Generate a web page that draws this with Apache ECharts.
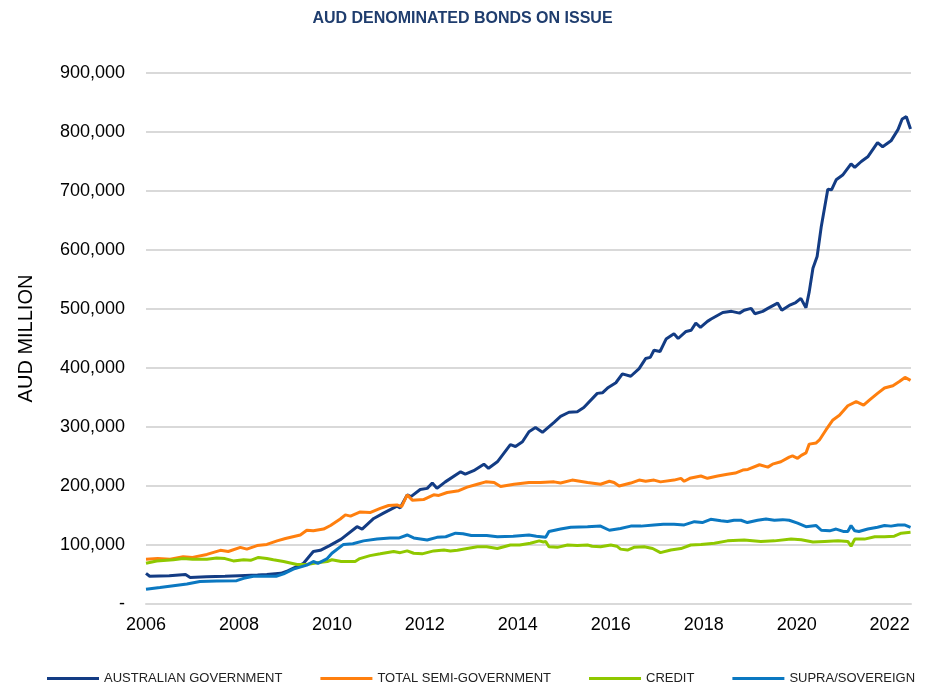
<!DOCTYPE html>
<html>
<head>
<meta charset="utf-8">
<script src="https://cdn.jsdelivr.net/npm/echarts@6/dist/echarts.min.js"></script>
<style>
body { margin: 0; background: #fff; }
#chart { width: 925px; height: 684px; }
</style>
</head>
<body>
<div id="chart"></div>
<script>
/* 数据: [年份, 金额(AUD million)] */
var seriesNames = ["AUSTRALIAN GOVERNMENT", "TOTAL SEMI-GOVERNMENT", "CREDIT", "SUPRA/SOVEREIGN"];
var yearTicks = [2006, 2008, 2010, 2012, 2014, 2016, 2018, 2020, 2022];

var ausGov = [[2006.0,52000],[2006.08,47000],[2006.5,48000],[2006.85,50000],[2006.95,45000],[2007.3,46000],[2007.7,47000],[2008.0,48000],[2008.4,49000],[2008.6,50000],[2008.9,52000],[2009.05,56000],[2009.39,69000],[2009.6,89000],[2009.75,91000],[2009.95,99000],[2010.2,110000],[2010.54,131000],[2010.65,127000],[2010.9,145000],[2011.11,154000],[2011.4,166000],[2011.47,163000],[2011.62,185000],[2011.7,182000],[2011.9,194000],[2012.05,196000],[2012.16,205000],[2012.26,196000],[2012.44,207000],[2012.77,224000],[2012.87,220000],[2013.05,226000],[2013.27,237000],[2013.37,230000],[2013.56,241000],[2013.84,270000],[2013.95,267000],[2014.1,275000],[2014.24,292000],[2014.38,299000],[2014.53,291000],[2014.78,308000],[2014.92,318000],[2015.1,325000],[2015.28,326000],[2015.42,333000],[2015.71,357000],[2015.82,358000],[2015.93,366000],[2016.11,375000],[2016.25,390000],[2016.43,386000],[2016.61,399000],[2016.75,416000],[2016.85,418000],[2016.93,430000],[2017.06,428000],[2017.19,449000],[2017.36,458000],[2017.45,450000],[2017.62,462000],[2017.73,464000],[2017.83,476000],[2017.93,469000],[2018.08,479000],[2018.16,483000],[2018.41,494000],[2018.6,496000],[2018.77,493000],[2018.87,498000],[2019.02,501000],[2019.1,492000],[2019.27,496000],[2019.38,501000],[2019.59,510000],[2019.68,498000],[2019.84,506000],[2019.98,511000],[2020.09,518000],[2020.2,502000],[2020.27,529000],[2020.35,569000],[2020.44,589000],[2020.53,640000],[2020.67,703000],[2020.75,702000],[2020.85,719000],[2020.99,727000],[2021.17,746000],[2021.25,740000],[2021.39,750000],[2021.53,758000],[2021.74,782000],[2021.85,775000],[2022.03,785000],[2022.18,804000],[2022.27,822000],[2022.36,826000],[2022.45,805000]];

var semiGov = [[2006.0,76000],[2006.25,77000],[2006.52,76000],[2006.8,80000],[2007.0,79000],[2007.31,84000],[2007.6,91000],[2007.77,89000],[2008.03,96000],[2008.17,93000],[2008.39,99000],[2008.6,101000],[2008.82,107000],[2009.0,111000],[2009.32,117000],[2009.46,125000],[2009.6,124000],[2009.82,127000],[2009.97,133000],[2010.18,144000],[2010.29,151000],[2010.4,149000],[2010.61,156000],[2010.82,155000],[2011.04,162000],[2011.22,167000],[2011.4,168000],[2011.5,165000],[2011.62,185000],[2011.73,176000],[2011.97,177000],[2012.19,185000],[2012.3,184000],[2012.48,189000],[2012.73,192000],[2012.91,198000],[2013.13,203000],[2013.31,207000],[2013.49,206000],[2013.63,199000],[2013.92,203000],[2014.24,206000],[2014.49,206000],[2014.78,207000],[2014.92,205000],[2015.17,210000],[2015.5,206000],[2015.78,203000],[2015.97,208000],[2016.07,206000],[2016.18,200000],[2016.43,205000],[2016.61,210000],[2016.75,208000],[2016.93,210000],[2017.07,207000],[2017.36,210000],[2017.51,213000],[2017.58,208000],[2017.7,213000],[2017.94,217000],[2018.08,213000],[2018.3,217000],[2018.51,220000],[2018.68,222000],[2018.84,227000],[2018.95,228000],[2019.2,236000],[2019.38,232000],[2019.48,237000],[2019.66,241000],[2019.84,249000],[2019.91,251000],[2020.02,247000],[2020.1,252000],[2020.2,256000],[2020.27,271000],[2020.42,273000],[2020.49,278000],[2020.63,295000],[2020.78,312000],[2020.92,320000],[2021.1,336000],[2021.28,343000],[2021.44,337000],[2021.57,346000],[2021.74,357000],[2021.89,366000],[2022.07,370000],[2022.21,377000],[2022.33,384000],[2022.45,379000]];

var credit = [[2006.0,69000],[2006.23,73000],[2006.59,75000],[2006.8,77000],[2007.0,76000],[2007.31,76000],[2007.52,78000],[2007.7,77000],[2007.88,73000],[2008.1,75000],[2008.25,74000],[2008.42,79000],[2008.6,77000],[2008.74,75000],[2008.96,72000],[2009.25,67000],[2009.46,67000],[2009.68,70000],[2009.9,72000],[2010.0,75000],[2010.2,72000],[2010.5,72000],[2010.6,77000],[2010.82,82000],[2011.04,85000],[2011.33,89000],[2011.47,87000],[2011.62,90000],[2011.76,86000],[2011.94,85000],[2012.19,90000],[2012.41,91500],[2012.55,90000],[2012.7,91000],[2012.91,94000],[2013.13,97000],[2013.33,97000],[2013.56,94000],[2013.84,100000],[2014.04,100000],[2014.27,103000],[2014.46,107000],[2014.55,105000],[2014.6,106000],[2014.67,97000],[2014.85,96000],[2015.07,100000],[2015.28,99000],[2015.5,100000],[2015.6,98000],[2015.78,97000],[2016.0,100000],[2016.13,98000],[2016.21,93000],[2016.36,91500],[2016.5,96000],[2016.72,97000],[2016.9,94000],[2017.07,87000],[2017.29,91500],[2017.51,94000],[2017.72,100000],[2017.94,101000],[2018.23,103000],[2018.51,107000],[2018.87,108500],[2019.23,106000],[2019.52,107000],[2019.88,110000],[2020.1,109000],[2020.35,105000],[2020.6,106000],[2020.89,107000],[2021.1,106000],[2021.17,98000],[2021.25,110000],[2021.46,110000],[2021.68,114000],[2021.89,114000],[2022.1,115000],[2022.25,120000],[2022.45,121500]];

var supra = [[2006.0,25000],[2006.3,28000],[2006.59,31000],[2006.88,34000],[2007.16,38000],[2007.52,39000],[2007.95,39500],[2008.1,43500],[2008.31,47000],[2008.6,47000],[2008.8,47000],[2008.96,51000],[2009.17,59000],[2009.46,66000],[2009.6,72000],[2009.7,69000],[2009.9,77000],[2010.0,86000],[2010.25,101000],[2010.45,102000],[2010.68,107000],[2010.97,110000],[2011.25,112000],[2011.45,112000],[2011.62,117000],[2011.76,112000],[2012.05,108500],[2012.26,113000],[2012.45,114000],[2012.66,120000],[2012.82,119000],[2013.0,116000],[2013.33,116000],[2013.56,114000],[2013.9,115000],[2014.24,117000],[2014.4,115000],[2014.6,113000],[2014.67,123000],[2014.92,127000],[2015.14,130000],[2015.5,131000],[2015.78,132000],[2015.97,125000],[2016.21,128000],[2016.43,132000],[2016.65,132000],[2016.93,134000],[2017.13,135000],[2017.36,135000],[2017.58,134000],[2017.8,139500],[2017.97,138000],[2018.15,143500],[2018.37,141000],[2018.51,140000],[2018.65,142000],[2018.8,142000],[2018.94,138000],[2019.16,142000],[2019.34,144000],[2019.52,142000],[2019.7,143000],[2019.84,142000],[2020.02,137000],[2020.2,131000],[2020.42,133000],[2020.53,125000],[2020.71,124000],[2020.85,127000],[2021.0,123000],[2021.1,123000],[2021.17,133000],[2021.25,124000],[2021.34,123000],[2021.53,127000],[2021.74,130000],[2021.89,133000],[2022.03,132000],[2022.18,134000],[2022.32,134000],[2022.45,130000]];

var colors = ["#133C84", "#FF7F0E", "#8FC800", "#0B78C1"];
var sans = "'Liberation Sans', Arial, sans-serif";

/* 折线图配置 */
var chart = echarts.init(document.getElementById('chart'));

function lineSeries(name, data, color) {
    return {
        name: name,
        type: "line",
        data: data,
        showSymbol: false,
        animation: false,
        lineStyle: { color: color, width: 3 },
        itemStyle: { color: color }
    };
}

chart.setOption({
    color: colors,
    title: {
        text: "AUD DENOMINATED BONDS ON ISSUE",
        left: "center",
        top: 6,
        textStyle: {
            color: "#1F3D6E",
            fontSize: 16,
            fontWeight: "bold",
            fontFamily: sans
        }
    },
    legend: {
        data: seriesNames,
        top: 667,
        left: 42,
        icon: "rect",
        itemWidth: 52,
        itemHeight: 3,
        itemGap: 38,
        textStyle: {
            color: "#222",
            fontSize: 13,
            fontFamily: sans
        }
    },
    grid: {
        left: 146,
        right: 14,
        top: 73,
        bottom: 80
    },
    xAxis: {
        type: "value",
        min: 2006,
        max: 2022.46,
        interval: 2,
        axisLine: { show: true, lineStyle: { color: "#D9D9D9", width: 2 } },
        axisTick: { show: false },
        splitLine: { show: false },
        axisLabel: {
            color: "#000",
            fontSize: 18,
            margin: 12,
            fontFamily: sans,
            showMaxLabel: false,
            formatter: function (v) {
                return yearTicks.indexOf(v) >= 0 ? String(v) : "";
            }
        }
    },
    yAxis: {
        type: "value",
        min: 0,
        max: 900000,
        interval: 100000,
        name: "AUD MILLION",
        nameLocation: "middle",
        nameGap: 110,
        nameTextStyle: { color: "#000", fontSize: 20, fontFamily: sans },
        axisLine: { show: false },
        axisTick: { show: false },
        splitLine: { lineStyle: { color: "#D9D9D9", width: 2 } },
        axisLabel: {
            color: "#000",
            fontSize: 18,
            margin: 21,
            fontFamily: sans,
            formatter: function (v) {
                return v === 0 ? "-" : v.toLocaleString("en-US");
            }
        }
    },
    series: [
        lineSeries(seriesNames[0], ausGov, colors[0]),
        lineSeries(seriesNames[1], semiGov, colors[1]),
        lineSeries(seriesNames[2], credit, colors[2]),
        lineSeries(seriesNames[3], supra, colors[3])
    ]
});
</script>
</body>
</html>
